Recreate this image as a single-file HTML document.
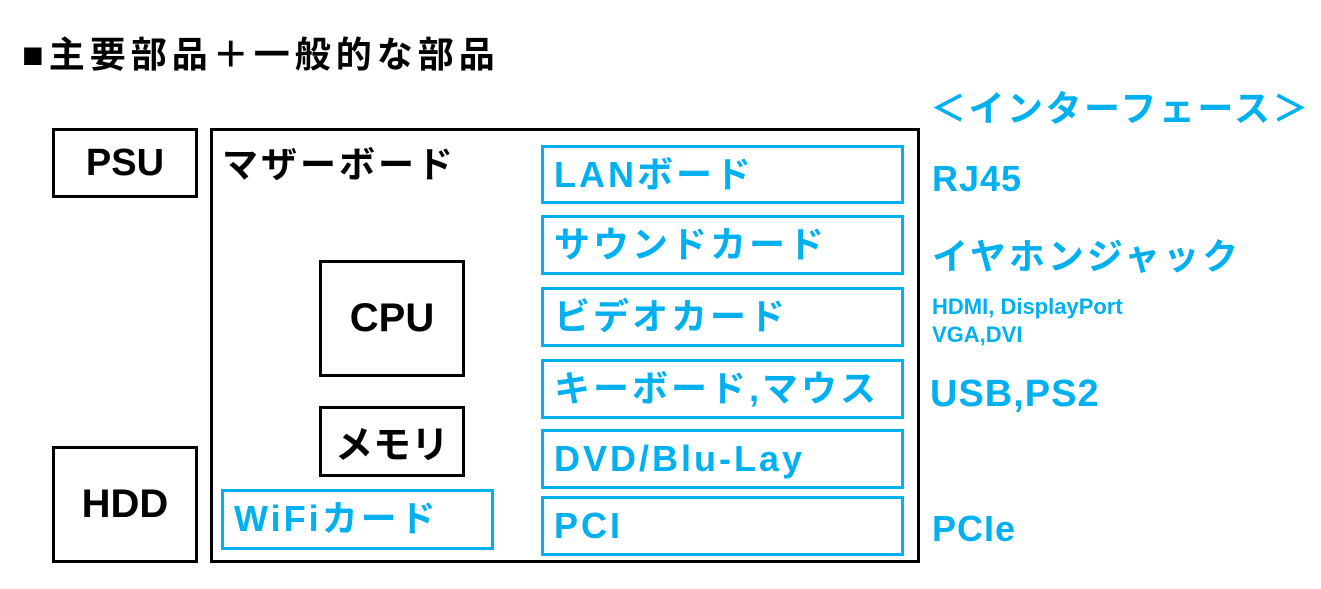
<!DOCTYPE html>
<html><head><meta charset="utf-8"><style>
body{margin:0;width:1321px;height:589px;background:#fff;position:relative;overflow:hidden;font-family:"Liberation Sans","Noto Sans CJK JP",sans-serif;font-weight:bold}
.b{position:absolute;box-sizing:border-box;border:3px solid #000}
.c{position:absolute;box-sizing:border-box;border:3px solid #00B0F0;color:#00B0F0;font-size:36px;letter-spacing:3px;padding-left:10px;line-height:54px;white-space:nowrap}
.t{position:absolute;white-space:nowrap}
.cy{color:#00B0F0}
.ctr{display:flex;align-items:center;justify-content:center;font-size:38px}
</style></head><body>
<div class="t" style="left:22px;top:26px;font-size:36px;letter-spacing:5px">■主要部品＋一般的な部品</div>
<div class="t cy" style="left:930px;top:80px;font-size:36px;letter-spacing:2.5px">＜インターフェース＞</div>
<div class="b ctr" style="left:52px;top:128px;width:146px;height:70px">PSU</div>
<div class="b" style="left:210px;top:128px;width:710px;height:435px"></div>
<div class="t" style="left:222px;top:136px;font-size:36px;letter-spacing:3px">マザーボード</div>
<div class="b ctr" style="left:319px;top:260px;width:146px;height:117px;font-size:40px">CPU</div>
<div class="b ctr" style="left:319px;top:406px;width:146px;height:71px">メモリ</div>
<div class="b ctr" style="left:52px;top:446px;width:146px;height:117px;font-size:40px">HDD</div>
<div class="c" style="left:221px;top:489px;width:273px;height:61px">WiFiカード</div>
<div class="c" style="left:541px;top:145px;width:363px;height:59px">LANボード</div>
<div class="c" style="left:541px;top:215px;width:363px;height:60px">サウンドカード</div>
<div class="c" style="left:541px;top:287px;width:363px;height:60px">ビデオカード</div>
<div class="c" style="left:541px;top:359px;width:363px;height:60px">キーボード,マウス</div>
<div class="c" style="left:541px;top:429px;width:363px;height:60px">DVD/Blu-Lay</div>
<div class="c" style="left:541px;top:496px;width:363px;height:60px">PCI</div>
<div class="t cy" style="left:932px;top:158px;font-size:36px;letter-spacing:1px">RJ45</div>
<div class="t cy" style="left:932px;top:228px;font-size:36px;letter-spacing:3px">イヤホンジャック</div>
<div class="t cy" style="left:932px;top:293px;font-size:22px;line-height:28px">HDMI, DisplayPort<br>VGA,DVI</div>
<div class="t cy" style="left:930px;top:373px;font-size:38px;letter-spacing:1px">USB,PS2</div>
<div class="t cy" style="left:932px;top:508px;font-size:36px;letter-spacing:1px">PCIe</div>
</body></html>
